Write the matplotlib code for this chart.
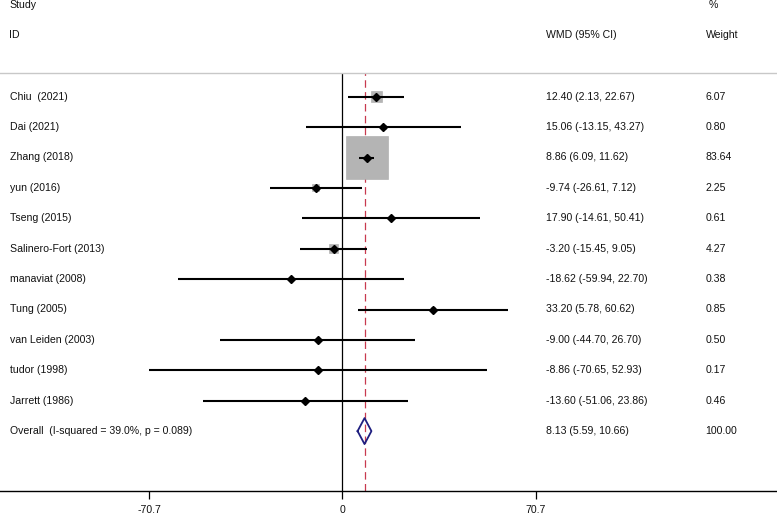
import numpy as np
import matplotlib
matplotlib.use("Agg")
import matplotlib.pyplot as plt
import matplotlib.transforms as mtransforms

#========= Data ===========
studies = ["Chiu  (2021)", "Dai (2021)", "Zhang (2018)", "yun (2016)", "Tseng (2015)",
           "Salinero-Fort (2013)", "manaviat (2008)", "Tung (2005)", "van Leiden (2003)",
           "tudor (1998)", "Jarrett (1986)"]
wmd     = [12.40, 15.06, 8.86, -9.74, 17.90, -3.20, -18.62, 33.20, -9.00, -8.86, -13.60]
ci_low  = [2.13, -13.15, 6.09, -26.61, -14.61, -15.45, -59.94, 5.78, -44.70, -70.65, -51.06]
ci_high = [22.67, 43.27, 11.62, 7.12, 50.41, 9.05, 22.70, 60.62, 26.70, 52.93, 23.86]
weights = [6.07, 0.80, 83.64, 2.25, 0.61, 4.27, 0.38, 0.85, 0.50, 0.17, 0.46]

overall_label = "Overall  (I-squared = 39.0%, p = 0.089)"
overall_est, overall_lo, overall_hi = 8.13, 5.59, 10.66
overall_weight = 100.00

xticks = [-70.7, 0, 70.7]
xticklabels = ["-70.7", "0", "70.7"]

#========= Layout ===========
W, H = 777, 516
px_per_unit = 2.734
x_zero_px = 342.3
row0_px = 96.7
row_step = 30.4
top_px, bottom_px = 73, 491

plt.rcParams['font.family'] = ['Liberation Sans', 'DejaVu Sans']
txt_col = '#111111'
fs = 7.6

fig = plt.figure(figsize=(W / 100, H / 100), dpi=100)
ax = fig.add_axes([0, (H - bottom_px) / H, 1, (bottom_px - top_px) / H])

ax.set_xlim(-x_zero_px / px_per_unit, (W - x_zero_px) / px_per_unit)
ax.set_ylim((bottom_px - row0_px) / row_step, (top_px - row0_px) / row_step)

n = len(studies)
rows = np.arange(n)

# reference lines
ax.axvline(0, color='black', lw=0.9, zorder=1)
ax.axvline(overall_est, color='#c8394f', lw=0.9, ls=(0, (6, 3.5)), zorder=1)

# weight boxes
w = np.array(weights)
ax.scatter(wmd, rows, marker='s', s=914.5 * w / 83.64, color='#b4b4b4',
           edgecolors='#a8a8a8', linewidths=0.4, zorder=2)
# confidence intervals
ax.hlines(rows, ci_low, ci_high, color='black', lw=1.5, zorder=3)
ax.plot(wmd, rows, ls='none', marker='D', ms=3.8, color='black', zorder=4)

# overall diamond
oy = n
dh = 13 / row_step
ax.plot([overall_lo, overall_est, overall_hi, overall_est, overall_lo],
        [oy, oy - dh, oy, oy + dh, oy], color='#1f1f80', lw=1.3, zorder=4)

# axis styling
for s in ['left', 'right']:
    ax.spines[s].set_visible(False)
ax.spines['top'].set_color('#c8c8c8')
ax.spines['top'].set_linewidth(1.0)
ax.spines['bottom'].set_color('black')
ax.spines['bottom'].set_linewidth(1.0)
ax.set_yticks([])
ax.set_xticks(xticks)
ax.set_xticklabels(xticklabels, fontsize=fs, color=txt_col)
ax.tick_params(axis='x', direction='out', length=5.5, width=0.9, pad=4.5)

# text columns
tr = mtransforms.blended_transform_factory(ax.transAxes, ax.transData)
x_lab, x_wmd, x_wt = 9.5 / W, 545.7 / W, 705.7 / W
for i in range(n):
    ax.text(x_lab, i, studies[i], transform=tr, fontsize=fs, color=txt_col,
            va='center', ha='left', clip_on=False)
    ax.text(x_wmd, i, "%.2f (%.2f, %.2f)" % (wmd[i], ci_low[i], ci_high[i]),
            transform=tr, fontsize=fs, color=txt_col, va='center', ha='left', clip_on=False)
    ax.text(x_wt, i, "%.2f" % weights[i], transform=tr, fontsize=fs, color=txt_col,
            va='center', ha='left', clip_on=False)

ax.text(x_lab, oy, overall_label, transform=tr, fontsize=fs, color=txt_col,
        va='center', ha='left', clip_on=False)
ax.text(x_wmd, oy, "%.2f (%.2f, %.2f)" % (overall_est, overall_lo, overall_hi),
        transform=tr, fontsize=fs, color=txt_col, va='center', ha='left', clip_on=False)
ax.text(x_wt, oy, "%.2f" % overall_weight, transform=tr, fontsize=fs, color=txt_col,
        va='center', ha='left', clip_on=False)

# headers
y_study = (5 - row0_px) / row_step
y_id = (35 - row0_px) / row_step
ax.text(x_lab, y_study, "Study", transform=tr, fontsize=fs, color=txt_col, va='center', clip_on=False)
ax.text(x_lab, y_id, "ID", transform=tr, fontsize=fs, color=txt_col, va='center', clip_on=False)
ax.text(x_wmd, y_id, "WMD (95% CI)", transform=tr, fontsize=fs, color=txt_col, va='center', clip_on=False)
ax.text(709 / W, y_study, "%", transform=tr, fontsize=fs, color=txt_col, va='center', clip_on=False)
ax.text(x_wt, y_id, "Weight", transform=tr, fontsize=fs, color=txt_col, va='center', clip_on=False)

fig.savefig("out.png", dpi=100)
